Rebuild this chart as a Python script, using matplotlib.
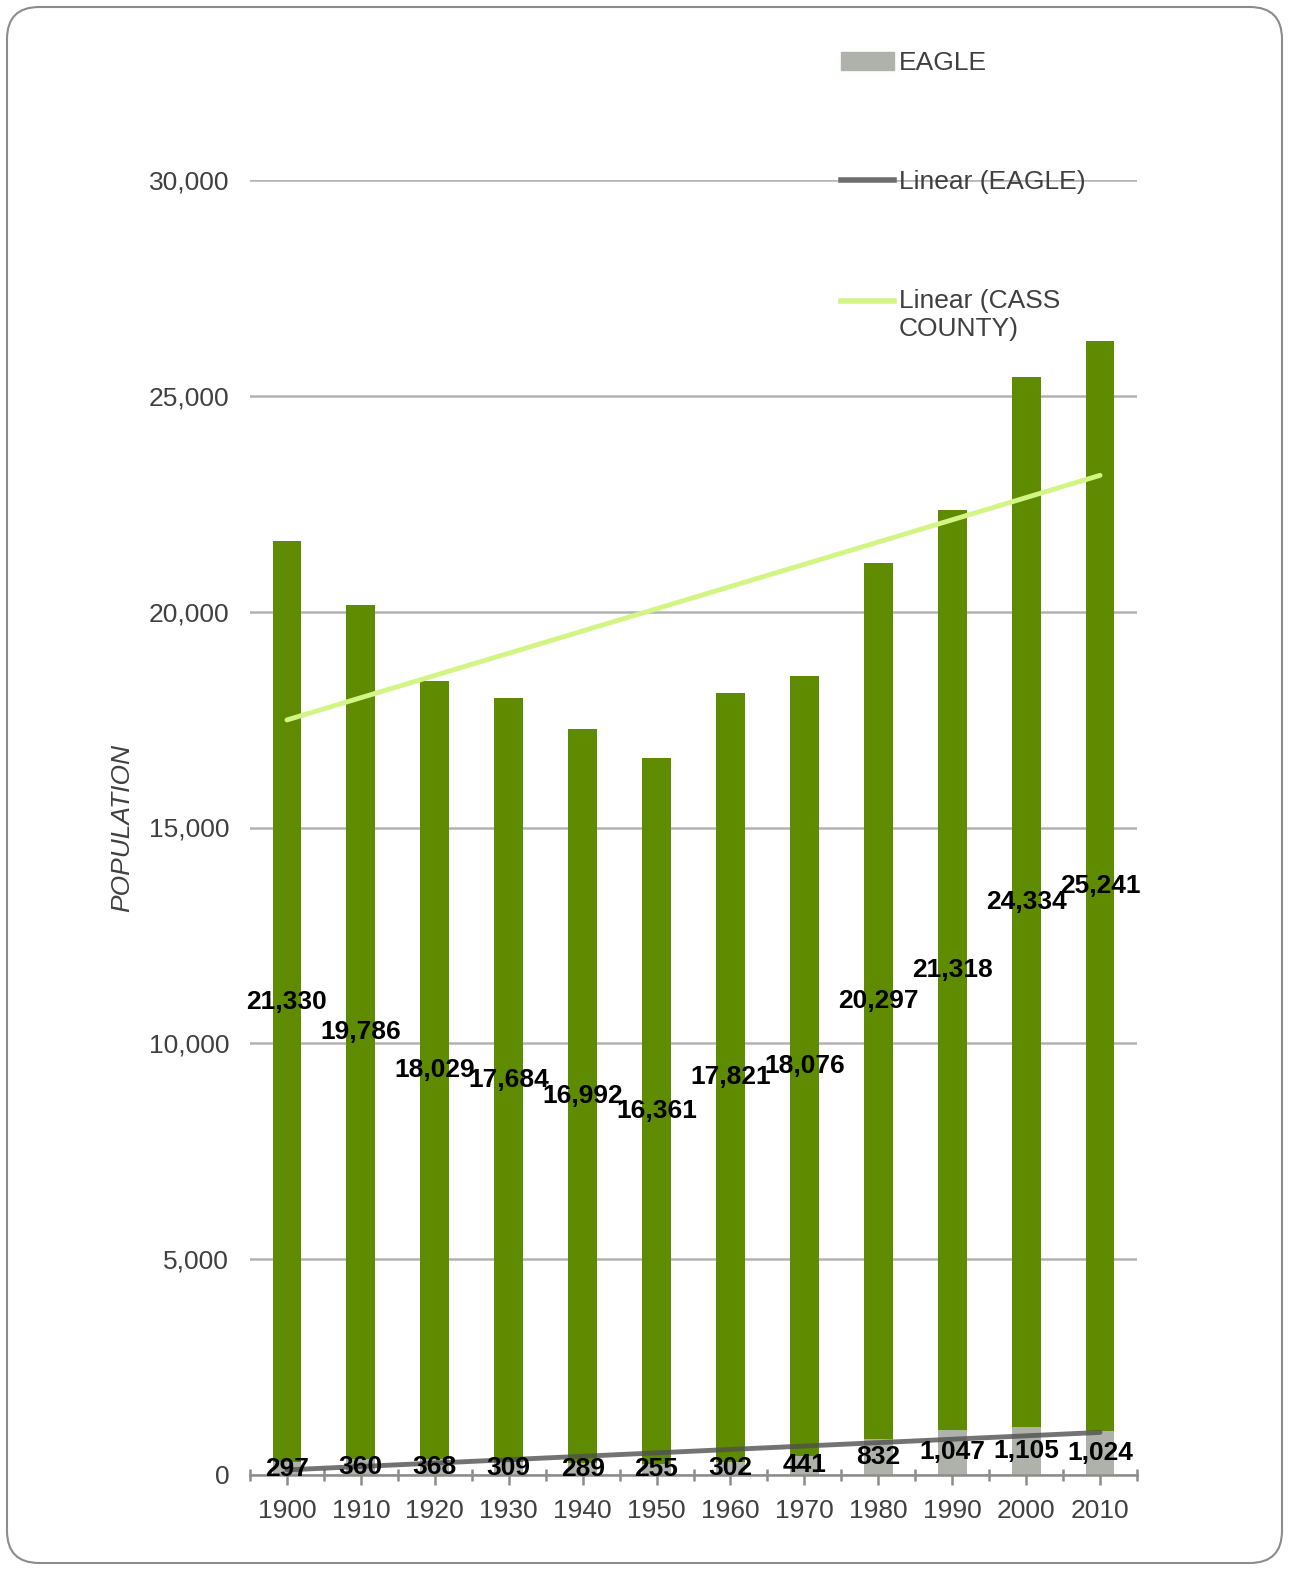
import numpy as np
import matplotlib
matplotlib.use('Agg')
import matplotlib.pyplot as plt
from matplotlib.patches import FancyBboxPatch, Patch
from matplotlib.lines import Line2D
from matplotlib.legend_handler import HandlerLine2D

plt.rcParams['font.family'] = ['Liberation Sans', 'DejaVu Sans']

years = ["1900", "1910", "1920", "1930", "1940", "1950",
         "1960", "1970", "1980", "1990", "2000", "2010"]
eagle = np.array([297, 360, 368, 309, 289, 255, 302, 441, 832, 1047, 1105, 1024])
cass = np.array([21330, 19786, 18029, 17684, 16992, 16361,
                 17821, 18076, 20297, 21318, 24334, 25241])

text_col = "#404040"
green = "#5f8b00"
gray = "#aeb2ab"
fs = 19


class TopLineHandler(HandlerLine2D):
    # put the legend line next to the first line of a two-line label
    def create_artists(self, legend, orig_handle, xdescent, ydescent,
                       width, height, fontsize, trans):
        arts = super().create_artists(legend, orig_handle, xdescent, ydescent,
                                      width, height, fontsize, trans)
        for a in arts:
            if isinstance(a, Line2D):
                a.set_ydata(np.asarray(a.get_ydata()) + 10)
        return arts


fig = plt.figure(figsize=(12.89, 15.70), dpi=100)
# rounded frame around the chart area
fig.add_artist(FancyBboxPatch((7 / 1289, 7 / 1570), 1 - 14 / 1289, 1 - 14 / 1570,
                              boxstyle="round,pad=0,rounding_size=0.025",
                              transform=fig.transFigure, fill=False,
                              edgecolor="#8c8c8c", linewidth=1.5,
                              mutation_aspect=1289 / 1570))

ax = fig.add_axes([250 / 1289, 95 / 1570, 887 / 1289, (1475 - 180) / 1570])

x = np.arange(len(years))
ax.bar(x, eagle, width=0.39, color=gray, zorder=2)
ax.bar(x, cass, width=0.39, bottom=eagle, color=green, zorder=2)

# linear trendlines
p_e = np.polyfit(x, eagle, 1)
ax.plot(x[[0, -1]], np.polyval(p_e, x[[0, -1]]), color="#505050", alpha=0.8,
        lw=3.5, solid_capstyle="round", zorder=3)
p_c = np.polyfit(x, eagle + cass, 1)
ax.plot(x[[0, -1]], np.polyval(p_c, x[[0, -1]]), color="#d2f585",
        lw=3.5, solid_capstyle="round", zorder=3)

# data labels in the middle of each segment
for i in range(len(years)):
    ax.text(x[i], eagle[i] / 2, f"{eagle[i]:,}", ha="center", va="center",
            fontsize=fs, fontweight="bold", color="black", zorder=4)
    ax.text(x[i], eagle[i] + cass[i] / 2, f"{cass[i]:,}", ha="center", va="center",
            fontsize=fs, fontweight="bold", color="black", zorder=4)

ax.set_xlim(-0.5, len(years) - 0.5)
ax.set_ylim(0, 30000)
ax.set_yticks(np.arange(0, 30001, 5000))
ax.set_yticklabels([f"{v:,}" for v in range(0, 30001, 5000)])
ax.yaxis.grid(True, color="#b3b3b3", lw=1.8, zorder=0)
ax.set_axisbelow(True)
for s in ["top", "right", "left"]:
    ax.spines[s].set_visible(False)
ax.spines["bottom"].set_color("#8c8c8c")
ax.spines["bottom"].set_linewidth(1.8)
ax.tick_params(axis="y", length=0, labelsize=fs, labelcolor=text_col, pad=15)

ax.set_xticks(x)
ax.set_xticklabels(years)
ax.tick_params(axis="x", which="major", length=7, width=1.8, color="#8c8c8c",
               labelsize=fs, labelcolor=text_col, pad=10)
ax.set_xticks(np.arange(-0.5, len(years)), minor=True)
ax.tick_params(axis="x", which="minor", length=8, width=1.8, color="#8c8c8c",
               direction="inout")

ax.set_ylabel("POPULATION", fontsize=fs, style="italic", color=text_col, labelpad=10)

cass_trend = Line2D([], [], color="#d2f585", lw=4)
handles = [Patch(color=gray),
           Line2D([], [], color="#6e6e6e", lw=4),
           cass_trend]
labels = ["EAGLE", "Linear (EAGLE)", "Linear (CASS\nCOUNTY)"]
leg = fig.legend(handles, labels, loc="upper left",
                 bbox_to_anchor=(841 / 1289, 1 - 51 / 1570),
                 frameon=False, fontsize=fs, labelcolor=text_col,
                 handlelength=2.0, handletextpad=0.2, labelspacing=3.6,
                 borderaxespad=0, borderpad=0,
                 handler_map={cass_trend: TopLineHandler()})

fig.savefig("out.png", dpi=100)
